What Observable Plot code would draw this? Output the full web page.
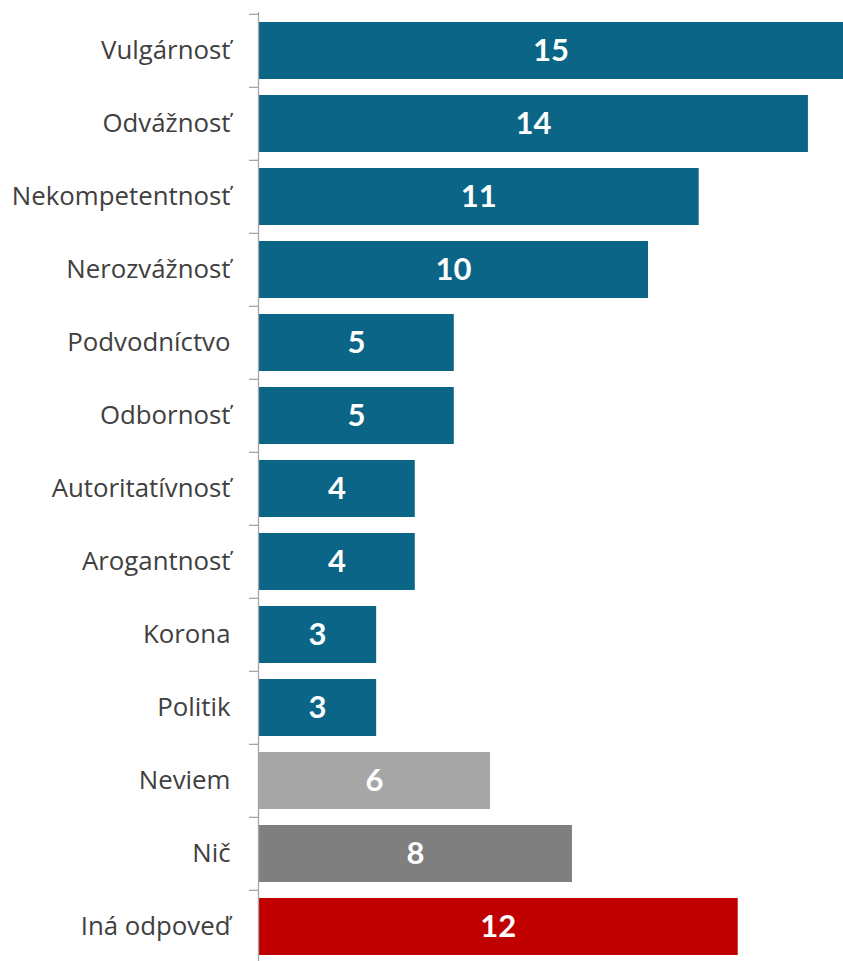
<!DOCTYPE html>
<html>
<head>
<meta charset="utf-8">
<script src="https://cdn.jsdelivr.net/npm/d3@7"></script>
<script src="https://cdn.jsdelivr.net/npm/@observablehq/plot@0.6"></script>
<style>
  html, body { margin: 0; padding: 0; background: #fff; }
  #chart svg { display: block; }
</style>
</head>
<body>
<div id="chart"></div>
<script>
const categories = ["Vulgárnosť", "Odvážnosť", "Nekompetentnosť", "Nerozvážnosť", "Podvodníctvo", "Odbornosť", "Autoritatívnosť", "Arogantnosť", "Korona", "Politik", "Neviem", "Nič", "Iná odpoveď"];
const values = [15, 14.1, 11.3, 10, 5.02, 5.02, 4.02, 4.02, 3.03, 3.03, 5.95, 8.05, 12.3];
const valueLabels = ["15", "14", "11", "10", "5", "5", "4", "4", "3", "3", "6", "8", "12"];
const groups = ["main", "main", "main", "main", "main", "main", "main", "main", "main", "main", "neviem", "nic", "ina"];
const groupColors = {main: "#0b6587", neviem: "#a6a6a6", nic: "#7f7f7f", ina: "#c00000"};

const data = categories.map((c, i) => ({category: c, value: values[i], label: valueLabels[i], group: groups[i]}));

const W = 843, H = 961;
const plotTop = 12, step = 73.3;
const yRange = [plotTop, plotTop + step * categories.length];

const chart = Plot.plot({
  width: W,
  height: H,
  marginLeft: 258,
  marginRight: 0,
  marginTop: plotTop,
  marginBottom: 0,
  style: {fontFamily: "Lato, sans-serif", background: "#fff"},
  x: {domain: [0, 15], axis: null},
  y: {domain: categories, range: yRange, paddingInner: 0.22, paddingOuter: 0.11, axis: null},
  marks: [
    Plot.barX(data, {x: "value", y: "category", fill: d => groupColors[d.group]}),
    Plot.ruleX([0], {stroke: "#a6a6a6", strokeWidth: 1.3}),
    Plot.ruleY(categories, {y: d => d, x1: -9 / 39, x2: 0, dy: -step / 2, stroke: "#a6a6a6", strokeWidth: 1.3}),
    Plot.text(data, {x: 0, y: "category", text: "category", textAnchor: "end", dx: -28, fill: "#404040", fontSize: 25.8, fontFamily: "'Open Sans', sans-serif"}),
    Plot.text(data, {x: d => d.value / 2, y: "category", text: "label", fill: "#fff", fontWeight: "bold", fontSize: 31})
  ]
});
document.getElementById("chart").appendChild(chart);
</script>
</body>
</html>
